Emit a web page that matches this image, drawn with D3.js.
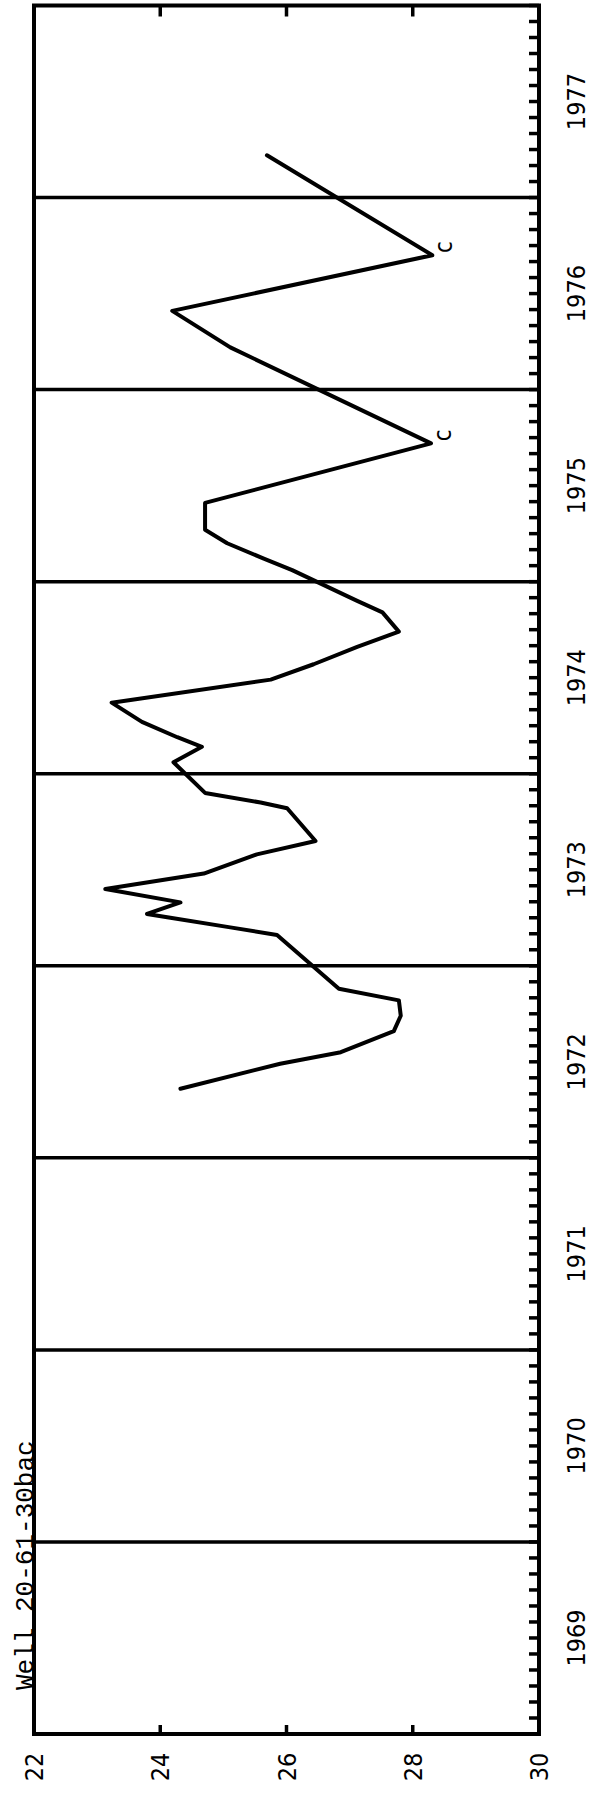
<!DOCTYPE html>
<html>
<head>
<meta charset="utf-8">
<script src="https://cdn.jsdelivr.net/npm/d3@7"></script>
<style>
  html, body { margin: 0; padding: 0; background: #fff; }
  svg { display: block; }
  .lab { font-family: "Liberation Sans Narrow", "DejaVu Sans Condensed", "Liberation Sans", sans-serif; fill: #000; }
  .title { font-family: "Liberation Mono", "DejaVu Sans Mono", monospace; fill: #000; }
</style>
</head>
<body>
<script>
// ---- data (decimal year, depth to water in feet) ----
const dates = [1972.36, 1972.49, 1972.55, 1972.66, 1972.74, 1972.82, 1972.88, 1973.16, 1973.20, 1973.25,
               1973.27, 1973.33, 1973.40, 1973.48, 1973.58, 1973.65, 1973.82, 1973.85, 1973.90, 1974.06,
               1974.14, 1974.19, 1974.27, 1974.37, 1974.49, 1974.57, 1974.66, 1974.74, 1974.84, 1974.90,
               1975.06, 1975.12, 1975.20, 1975.27, 1975.41, 1975.72, 1976.22, 1976.41, 1976.70, 1977.22];
const depths = [24.32, 25.90, 26.86, 27.70, 27.81, 27.78, 26.83, 25.85, 25.11, 24.16,
                23.79, 24.32, 23.13, 24.69, 25.53, 26.46, 26.01, 25.59, 24.71, 24.21,
                24.66, 24.27, 23.71, 23.23, 25.75, 26.43, 27.12, 27.78, 27.52, 27.12,
                26.09, 25.64, 25.06, 24.71, 24.71, 28.29, 25.11, 24.19, 28.31, 25.69];
const noteDates = [1975.72, 1976.70];
const noteDepths = [28.29, 28.31];
const noteText = ["c", "c"];
const years = [1969, 1970, 1971, 1972, 1973, 1974, 1975, 1976, 1977];
const depthTicks = [22, 24, 26, 28, 30];
const title = "Well 20-61-30bac";

// ---- layout ----
const W = 599, H = 1796;
const padL = 34, padR = 539, padT = 5.5, padB = 1734;

const svg = d3.select("body").append("svg").attr("width", W).attr("height", H);

const x = d3.scaleLinear().domain([22, 30]).range([padL, padR]);
const y = d3.scaleLinear().domain([1969, 1978]).range([padB, padT]);

const ink = "#000";

// year boundary lines
svg.append("g").selectAll("line")
  .data(d3.range(1970, 1978))
  .join("line")
  .attr("x1", padL).attr("x2", padR)
  .attr("y1", d => y(d)).attr("y2", d => y(d))
  .attr("stroke", ink).attr("stroke-width", 3.5);

// monthly ticks on right side (inward)
const months = d3.range(0, 9 * 12 + 1).map(i => 1969 + i / 12);
svg.append("g").selectAll("line")
  .data(months)
  .join("line")
  .attr("x1", padR - 10).attr("x2", padR)
  .attr("y1", d => y(d)).attr("y2", d => y(d))
  .attr("stroke", ink).attr("stroke-width", 3.5);

// top / bottom value ticks (inward)
const inner = depthTicks.slice(1, -1);
svg.append("g").selectAll("line").data(inner).join("line")
  .attr("x1", d => x(d)).attr("x2", d => x(d))
  .attr("y1", padT).attr("y2", padT + 11)
  .attr("stroke", ink).attr("stroke-width", 3.5);
svg.append("g").selectAll("line").data(inner).join("line")
  .attr("x1", d => x(d)).attr("x2", d => x(d))
  .attr("y1", padB).attr("y2", padB - 9)
  .attr("stroke", ink).attr("stroke-width", 3.5);

// frame
svg.append("rect")
  .attr("x", padL).attr("y", padT)
  .attr("width", padR - padL).attr("height", padB - padT)
  .attr("fill", "none").attr("stroke", ink).attr("stroke-width", 4);

// data line
const pts = dates.map((d, i) => [d, depths[i]]);
svg.append("path")
  .datum(pts)
  .attr("d", d3.line().x(d => x(d[1])).y(d => y(d[0])))
  .attr("fill", "none").attr("stroke", ink)
  .attr("stroke-width", 4)
  .attr("stroke-linejoin", "round").attr("stroke-linecap", "round");

// notes
const fs = 24;
svg.append("g").selectAll("text")
  .data(noteDates.map((d, i) => ({ d, v: noteDepths[i], t: noteText[i] })))
  .join("text")
  .attr("class", "lab")
  .attr("font-size", fs)
  .attr("text-anchor", "middle")
  .attr("transform", d => `translate(${x(d.v) + 20},${y(d.d) - 8}) rotate(-90)`)
  .text(d => d.t);

// value tick labels (rotated)
svg.append("g").selectAll("text")
  .data(depthTicks)
  .join("text")
  .attr("class", "lab")
  .attr("font-size", fs + 1)
  .attr("text-anchor", "middle")
  .attr("transform", d => `translate(${x(d) + 9},${1767}) rotate(-90)`)
  .text(d => d);

// year labels (rotated)
svg.append("g").selectAll("text")
  .data(years)
  .join("text")
  .attr("class", "lab")
  .attr("font-size", fs + 1)
  .attr("text-anchor", "middle")
  .attr("transform", d => `translate(585,${y(d + 0.5)}) rotate(-90)`)
  .text(d => d);

// title
svg.append("text")
  .attr("class", "title")
  .attr("font-size", 26)
  .attr("text-anchor", "start")
  .attr("transform", `translate(33,1690) rotate(-90)`)
  .text(title);
</script>
</body>
</html>
